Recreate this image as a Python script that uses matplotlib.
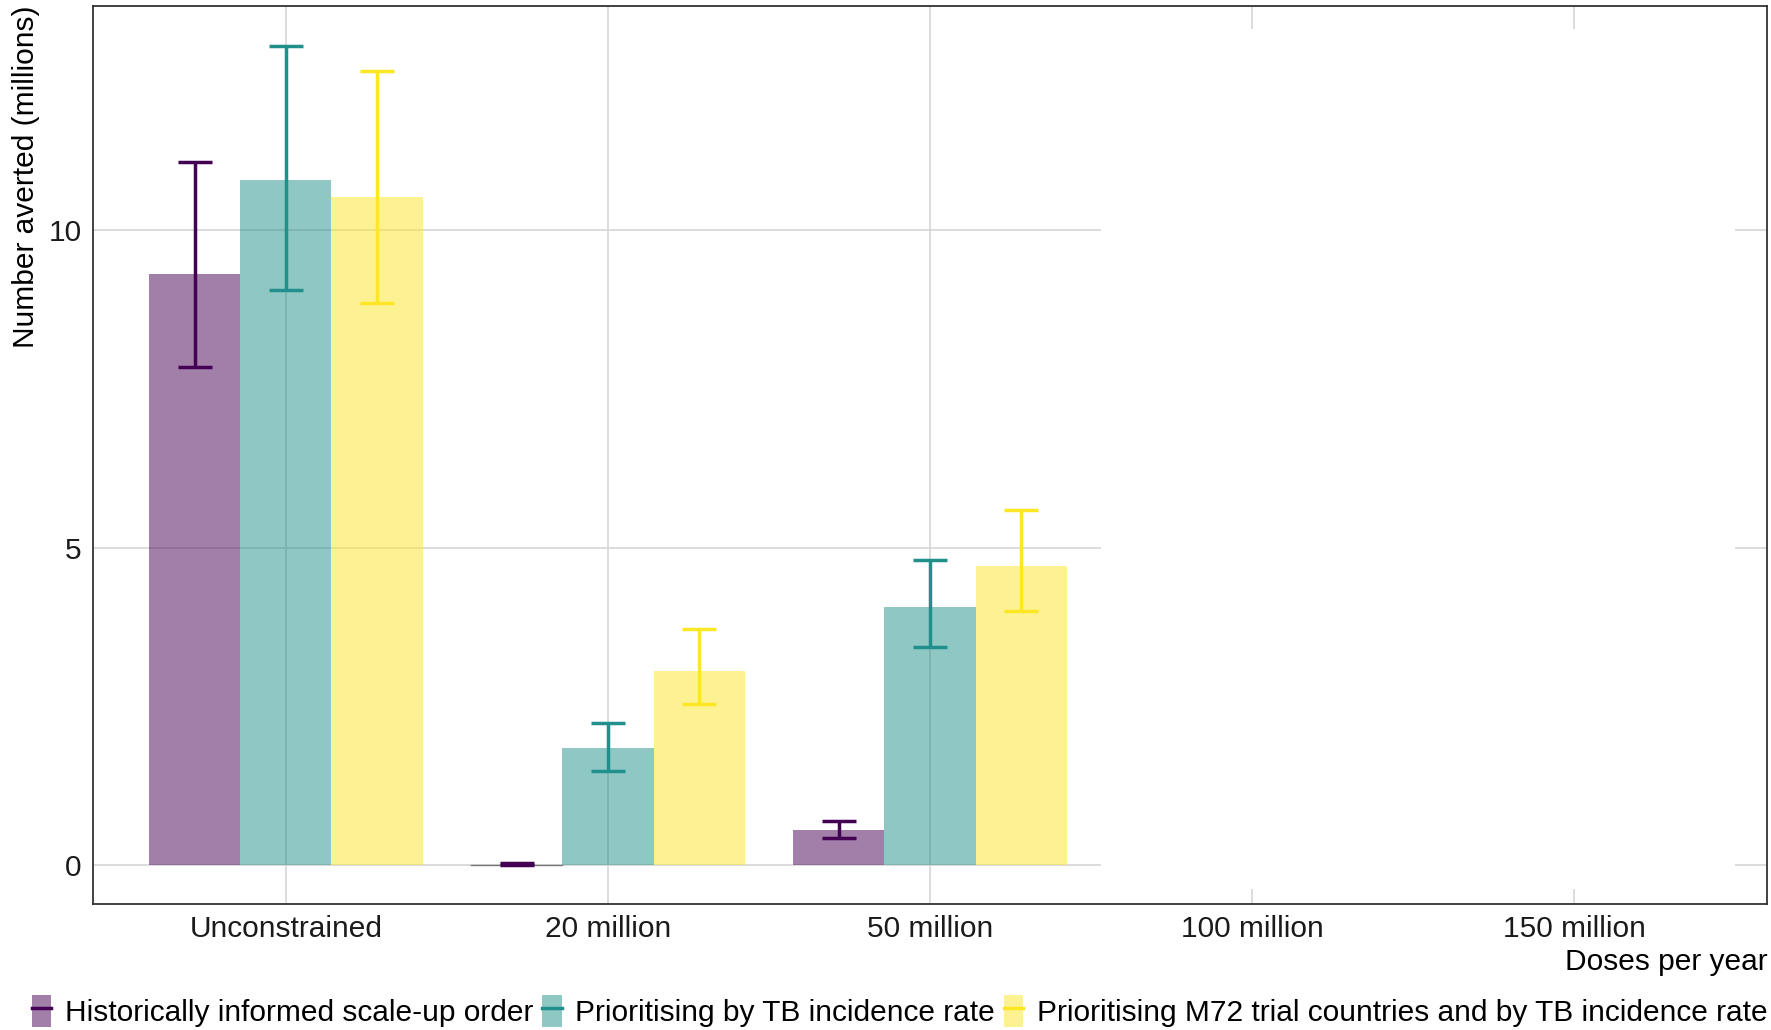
import numpy as np
import matplotlib
matplotlib.use("Agg")
import matplotlib.pyplot as plt
from matplotlib.patches import Patch, Rectangle
from matplotlib.lines import Line2D

plt.rcParams['font.family'] = ['Liberation Sans', 'DejaVu Sans']

# data
categories = ["Unconstrained", "20 million", "50 million", "100 million", "150 million"]
series = ["Historically informed scale-up order",
          "Prioritising by TB incidence rate",
          "Prioritising M72 trial countries and by TB incidence rate"]
colours = ["#440154", "#21908C", "#FDE725"]

# only the first three dose levels have values
historic = [9.31, 0.01, 0.55]
historic_lo = [7.85, 0.00, 0.43]
historic_hi = [11.07, 0.03, 0.69]

incidence = [10.80, 1.85, 4.06]
incidence_lo = [9.06, 1.49, 3.43]
incidence_hi = [12.90, 2.24, 4.80]

m72 = [10.52, 3.06, 4.72]
m72_lo = [8.86, 2.54, 4.00]
m72_hi = [12.51, 3.72, 5.59]

values = [historic, incidence, m72]
lows = [historic_lo, incidence_lo, m72_lo]
highs = [historic_hi, incidence_hi, m72_hi]

fs = 21.5

fig = plt.figure(figsize=(17.71, 10.30), dpi=100)
ax = fig.add_axes([0.0523, 0.1227, 0.9457, 0.8719])

bar_w = 0.2833
x = np.arange(len(historic))
for i in range(3):
    pos = x + (i - 1) * bar_w
    ax.bar(pos, values[i], width=bar_w, color=colours[i], alpha=0.5,
           edgecolor='none', zorder=2)
    v = np.array(values[i])
    err = [v - np.array(lows[i]), np.array(highs[i]) - v]
    ax.errorbar(pos, v, yerr=err, fmt='none', ecolor=colours[i],
                elinewidth=2.5, capsize=12, capthick=2.5, zorder=3)

# thin baseline for the near-zero bar
ax.plot([1 - 1.5 * bar_w, 1 - 0.5 * bar_w], [0, 0], color='#777777', lw=1, zorder=2)

ax.set_xlim(-0.6, 4.6)
ax.set_ylim(-0.605, 13.54)
ax.set_xticks(range(len(categories)))
ax.set_xticklabels(categories)
ax.set_yticks([0, 5, 10])
ax.tick_params(axis='both', length=0, labelsize=fs, pad=8, colors='#1a1a1a')
ax.grid(True, color='#d6d6d6', lw=1.2, zorder=0)
ax.set_axisbelow(True)
for s in ax.spines.values():
    s.set_color('#333333')
    s.set_linewidth(1.3)

# blank area over the empty dose levels
ax.add_patch(Rectangle((2.532, -0.37), 4.50 - 2.532, 13.17 + 0.37,
                       facecolor='white', edgecolor='none', zorder=1))

ax.set_xlabel("Doses per year", fontsize=fs, loc='right', labelpad=4)
ax.set_ylabel("Number averted (millions)", fontsize=fs, loc='top', labelpad=6)

handles = [(Patch(facecolor=c, alpha=0.5, edgecolor='none'),
            Line2D([], [], color=c, lw=2.5)) for c in colours]
fig.legend(handles, series, loc='center', bbox_to_anchor=(0.508, 1 - 1011 / 1030),
           ncol=3, frameon=False, fontsize=fs, handlelength=0.65, handleheight=1.3,
           handletextpad=0.45, columnspacing=0.3, borderpad=0.1)

fig.savefig("out.png", dpi=100)
